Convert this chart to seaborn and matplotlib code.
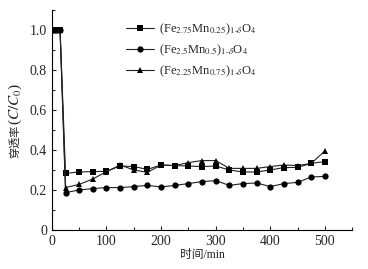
import seaborn as sns
from matplotlib import pyplot as plt
from matplotlib.ticker import MultipleLocator
import pandas as pd

time = [2, 6, 10, 15, 25, 50, 75, 100, 125, 150, 175, 200, 225, 250, 275,
        300, 325, 350, 375, 400, 425, 450, 475, 500]
fe275 = [1.0, 1.0, 1.0, 1.0, 0.283, 0.29, 0.292, 0.293, 0.32, 0.317, 0.303, 0.325,
         0.322, 0.32, 0.317, 0.32, 0.30, 0.29, 0.29, 0.30, 0.312, 0.313, 0.333, 0.342]
fe25 = [1.0, 1.0, 1.0, 1.0, 0.187, 0.20, 0.207, 0.212, 0.212, 0.217, 0.223, 0.215,
        0.223, 0.232, 0.242, 0.247, 0.223, 0.232, 0.235, 0.217, 0.232, 0.238, 0.265, 0.268]
fe225 = [1.0, 1.0, 1.0, 1.0, 0.212, 0.228, 0.255, 0.292, 0.325, 0.30, 0.288, 0.325,
         0.322, 0.337, 0.347, 0.347, 0.308, 0.308, 0.308, 0.317, 0.325, 0.322, 0.333, 0.395]
labels = [r'(Fe$_{2.75}$Mn$_{0.25}$)$_{1\text{-}\delta}$O$_4$',
          r'(Fe$_{2.5}$Mn$_{0.5}$)$_{1\text{-}\delta}$O$_4$',
          r'(Fe$_{2.25}$Mn$_{0.75}$)$_{1\text{-}\delta}$O$_4$']

rows = []
for lab, vals in zip(labels, [fe275, fe25, fe225]):
    for t, v in zip(time, vals):
        rows.append({'time': t, 'rate': v, 'sample': lab})
df = pd.DataFrame(rows)

sns.set_style("ticks")
plt.rcParams['font.family'] = ['Liberation Serif', 'Noto Sans CJK SC']
plt.rcParams['mathtext.fontset'] = 'stix'
plt.rcParams['xtick.direction'] = 'in'
plt.rcParams['ytick.direction'] = 'in'

fig = plt.figure(figsize=(3.68, 2.69), dpi=100)
ax = fig.add_axes([0.141, 0.145, 0.816, 0.818])
sns.lineplot(data=df, x='time', y='rate', hue='sample', style='sample',
             markers=['s', 'o', '^'], dashes=False, palette=['#222222'] * 3,
             markersize=4.5, linewidth=0.8, markeredgewidth=0,
             ax=ax, legend=True)
for ln in ax.lines:
    ln.set_markerfacecolor('black')
    ln.set_markeredgecolor('black')

ax.set_xlim(0, 550)
ax.set_ylim(0, 1.1)
ax.set_xticks([0, 100, 200, 300, 400, 500])
ax.xaxis.set_minor_locator(MultipleLocator(50))
ax.set_yticks([0, 0.2, 0.4, 0.6, 0.8, 1.0])
ax.set_yticklabels(['0', '0.2', '0.4', '0.6', '0.8', '1.0'])
ax.yaxis.set_minor_locator(MultipleLocator(0.1))
ax.tick_params(which='major', length=3, width=0.8, labelsize=10)
ax.tick_params(which='minor', length=2, width=0.8)
sns.despine(ax=ax)
for s in ['left', 'bottom']:
    ax.spines[s].set_linewidth(0.8)
    ax.spines[s].set_color('black')

ax.set_xlabel('时间/min', fontsize=8.5, labelpad=1)
ax.set_ylabel('')
# y label: CJK part and math part drawn separately (mathtext has no CJK glyphs)
fig.text(15 / 368, 1 - 158 / 269, '穿透率', rotation=90, fontsize=8,
         ha='center', va='bottom')
fig.text(15 / 368, 1 - 125 / 269, '($C/C_0$)', rotation=90, fontsize=11,
         ha='center', va='bottom')

h, l = ax.get_legend_handles_labels()
ax.legend(h, l, loc='upper left', bbox_to_anchor=(0.21, 1.0), frameon=False,
          fontsize=9, handlelength=2.2, handletextpad=0.4, labelspacing=0.45)

plt.savefig('out.png', dpi=100)
